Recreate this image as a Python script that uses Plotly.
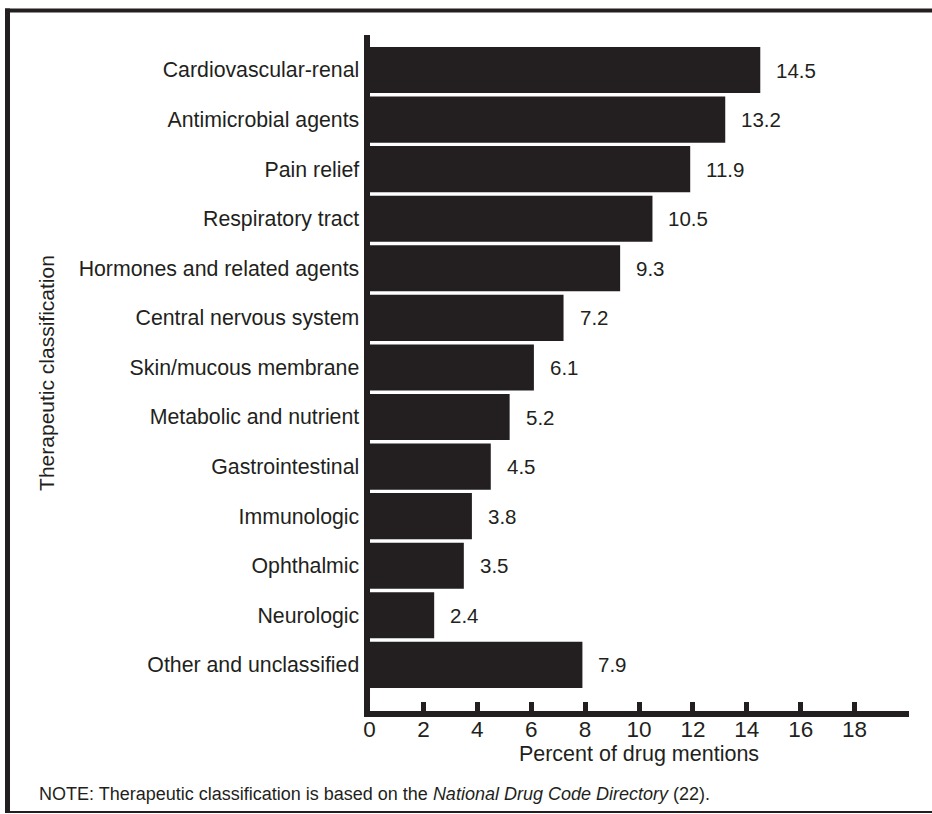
import plotly.graph_objects as go

categories = [
    "Cardiovascular-renal",
    "Antimicrobial agents",
    "Pain relief",
    "Respiratory tract",
    "Hormones and related agents",
    "Central nervous system",
    "Skin/mucous membrane",
    "Metabolic and nutrient",
    "Gastrointestinal",
    "Immunologic",
    "Ophthalmic",
    "Neurologic",
    "Other and unclassified",
]
percent = [14.5, 13.2, 11.9, 10.5, 9.3, 7.2, 6.1, 5.2, 4.5, 3.8, 3.5, 2.4, 7.9]
x_ticks = [0, 2, 4, 6, 8, 10, 12, 14, 16, 18]

W, H = 932, 814
INK = "#231f20"
FONT = "Liberation Sans, Arial, Helvetica, sans-serif"

def px(x):
    return x / W

def py(y):
    return (H - y) / H

fig = go.Figure()
fig.add_trace(go.Bar(
    x=percent,
    y=categories,
    orientation="h",
    marker=dict(color=INK, line=dict(width=0)),
    hoverinfo="x+y",
))

# value labels next to each bar
for c, v in zip(categories, percent):
    fig.add_annotation(
        x=v, y=c, xref="x", yref="y",
        text=f"{v:.1f}", showarrow=False,
        xanchor="left", yanchor="middle", xshift=14,
        font=dict(family=FONT, size=20.5, color=INK),
    )

fig.update_layout(
    width=W, height=H,
    margin=dict(l=0, r=0, t=0, b=0, pad=0),
    paper_bgcolor="white",
    plot_bgcolor="white",
    showlegend=False,
    bargap=0.07,
    font=dict(family=FONT, size=21, color=INK),
    xaxis=dict(
        domain=[px(369.5), px(908.5)],
        range=[0, 20],
        tickvals=x_ticks,
        ticks="inside",
        ticklen=9,
        tickwidth=5,
        tickcolor=INK,
        showline=True,
        linewidth=6,
        linecolor=INK,
        showgrid=False,
        zeroline=False,
        automargin=False,
        ticklabelstandoff=-7,
        tickfont=dict(family=FONT, size=22.5, color=INK),
        title=dict(text="Percent of drug mentions",
                   font=dict(family=FONT, size=21.5, color=INK),
                   standoff=2),
    ),
    yaxis=dict(
        domain=[py(711), py(35)],
        range=[12.93, -0.706],
        showline=True,
        linewidth=6,
        linecolor=INK,
        ticks="",
        showgrid=False,
        zeroline=False,
        automargin=False,
        ticklabelstandoff=0,
        tickfont=dict(family=FONT, size=21.3, color=INK),
        title=dict(text="Therapeutic classification",
                   font=dict(family=FONT, size=21, color=INK),
                   standoff=20),
    ),
)

# note
fig.add_annotation(
    x=px(37), y=py(794), xref="paper", yref="paper",
    xanchor="left", yanchor="middle", showarrow=False,
    text="NOTE: Therapeutic classification is based on the <i>National Drug Code Directory</i> (22).",
    font=dict(family=FONT, size=18, color=INK),
)

# frame lines
fig.add_shape(type="line", xref="paper", yref="paper",
              x0=px(5), x1=px(932), y0=py(10.5), y1=py(10.5),
              line=dict(color=INK, width=4))
fig.add_shape(type="line", xref="paper", yref="paper",
              x0=px(7.5), x1=px(7.5), y0=py(8.5), y1=py(813),
              line=dict(color=INK, width=5))
fig.add_shape(type="line", xref="paper", yref="paper",
              x0=px(5), x1=px(932), y0=py(812), y1=py(812),
              line=dict(color=INK, width=2))

fig.write_html(
    "out.html",
    config={"displayModeBar": False},
    post_script="document.body.style.margin='0px';document.body.style.padding='0px';",
)
